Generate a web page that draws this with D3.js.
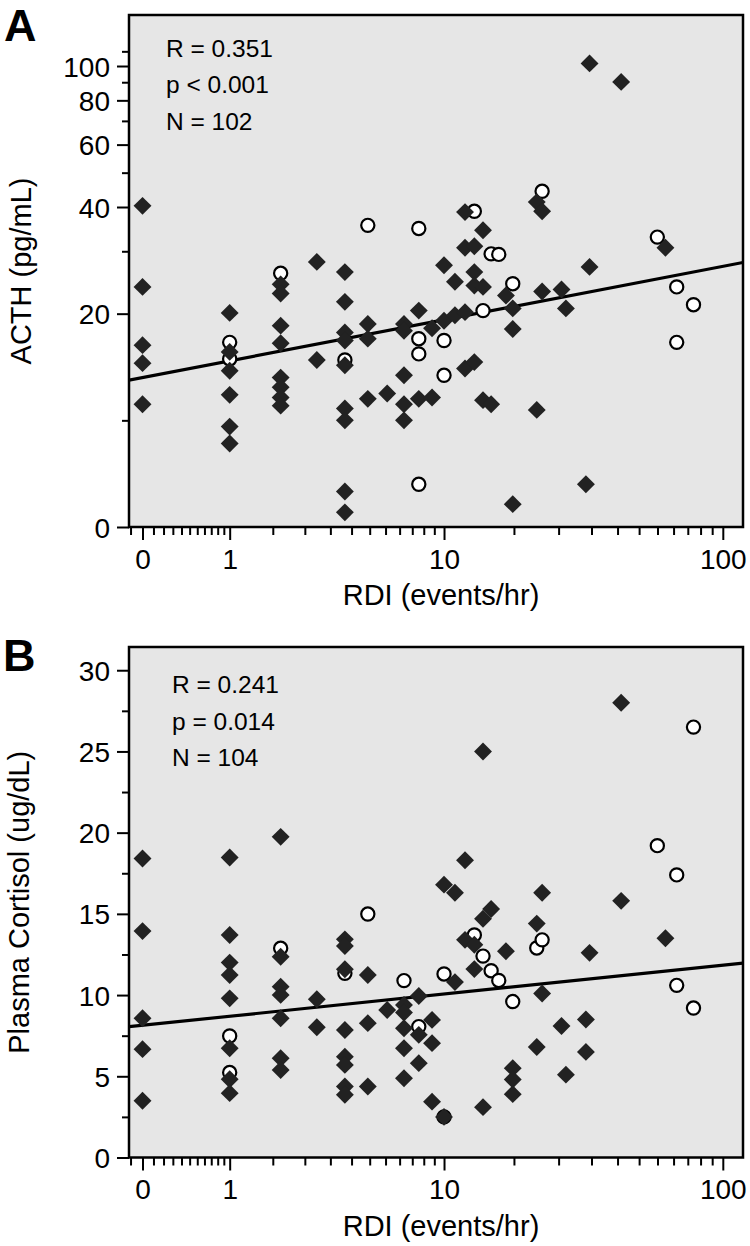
<!DOCTYPE html>
<html><head><meta charset="utf-8">
<script src="https://cdn.jsdelivr.net/npm/d3@7"></script>
<style>
body{margin:0;background:#fff}
svg{display:block}
text{font-family:"Liberation Sans",Arial,Helvetica,sans-serif;fill:#000}
</style>
</head><body>
<svg id="chart" width="750" height="1246"></svg>
<script>
// ---------------- DATA ----------------
// X axis (RDI, events/hr), shown on a log(RDI+1) axis
const xMajorTicks = [0, 1, 10, 100];
const xMajorLabels = ["0", "1", "10", "100"];

// Panel A: ACTH (pg/mL), log axis; the "0" label sits at the axis floor
const acthTickValues = [5, 20, 40, 60, 80, 100];
const acthTickLabels = ["0", "20", "40", "60", "80", "100"];
const acthMinorTicks = [10, 30, 50, 70, 90, 110];

const acthDiamondRDI = [0,0,0,0,0, 1,1,1,1,1,1, 2,2,2,2,2,2,2,2, 3,3, 4,4,4,4,4,4,4,4,4, 5,5,5, 6, 7,7,7,7,7, 8,8, 9,9, 10,10, 11,11, 12,12,12,12, 13,13,13,13, 14,14,14, 15, 17, 18,18,18, 22,22, 23,23, 27, 28, 33, 34,34, 44, 63];
const acthDiamondVal = [40.3,23.8,16.3,14.5,11.1, 20.1,15.6,13.8,11.8,9.6,8.6, 24.2,22.8,18.5,16.5,13.2,12.4,11.6,11.0, 28.0,14.8, 26.2,21.6,17.7,16.8,14.3,10.8,10.0,6.3,5.5, 18.7,17.0,11.5, 11.9, 18.7,17.9,13.4,11.1,10.0, 20.4,11.5, 18.2,11.6, 27.4,19.1, 24.6,19.8, 38.7,30.7,20.2,14.0, 31.0,26.2,24.0,14.6, 34.4,23.8,11.4, 11.1, 22.5, 20.7,18.1,5.8, 41.3,10.7, 38.9,23.1, 23.4, 20.7, 6.6, 101.7,27.1, 90.2, 30.7];
const acthCircleRDI = [1,1, 2, 4, 5, 8,8,8,8, 10,10, 13, 14, 15, 16, 18, 23, 59, 69,69, 79];
const acthCircleVal = [16.6,14.9, 26.0, 14.8, 35.5, 34.8,17.0,15.4,6.6, 16.8,13.4, 38.9, 20.4, 29.5, 29.4, 24.3, 44.3, 32.9, 23.8,16.6, 21.2];
const acthFitRDI = [0, 100];
const acthFitVal = [13.2, 27.2];

// Panel B: Plasma cortisol (ug/dL), linear axis
const cortTicks = [0, 5, 10, 15, 20, 25, 30];
const cortMinorTicks = [2.5, 7.5, 12.5, 17.5, 22.5, 27.5];

const cortDiamondRDI = [0,0,0,0,0, 1,1,1,1,1,1,1,1, 2,2,2,2,2,2,2, 3,3, 4,4,4,4,4,4,4,4, 5,5,5, 6, 7,7,7,7,7, 8,8,8, 9,9,9, 10,10, 11,11, 12,12, 13,13, 14,14,14, 15, 17, 18,18,18, 22,22, 23,23, 27, 28, 33,33, 34, 44,44, 63];
const cortDiamondVal = [18.41,13.94,8.57,6.67,3.49, 18.47,13.70,12.0,11.24,9.80,6.73,4.82,3.96, 19.74,12.36,10.52,10.01,8.57,6.11,5.39, 9.74,8.02, 13.43,13.02,11.59,7.85,6.21,5.70,4.37,3.86, 11.24,8.27,4.37, 9.08, 9.39,8.92,7.96,6.73,4.88, 9.94,7.55,5.81, 8.47,7.04,3.44, 16.8,2.5, 16.3,10.8, 18.3,13.4, 13.1,11.6, 25.0,14.7,3.1, 15.3, 12.7, 5.5,4.8,3.9, 14.4,6.8, 16.3,10.1, 8.1, 5.1, 8.5,6.5, 12.6, 28.0,15.8, 13.5];
const cortCircleRDI = [1,1, 2, 4, 5, 7, 8, 10,10, 13, 14, 15, 16, 18, 22, 23, 59, 69,69, 79,79];
const cortCircleVal = [7.48,5.23, 12.88, 11.34, 14.99, 10.89, 8.06, 11.3,2.5, 13.7, 12.4, 11.5, 10.9, 9.6, 12.9, 13.4, 19.2, 17.4,10.6, 9.2,26.5];
const cortFitRDI = [0, 100];
const cortFitVal = [8.14, 11.84];

// ---------------- DRAWING ----------------
const svg = d3.select("#chart");
const L = 129, R = 743;
const FONT = 28;

function zip(a, b){ return a.map((v,i)=>({rdi:v, val:b[i]})); }

function panel(cfg){
  const g = svg.append("g");
  const x = d3.scaleLog().domain([0.898, 118.6]).range([L, R]); // input is RDI+1
  const y = cfg.y;
  const top = cfg.top, bot = cfg.bottom;
  const X = d => x(d + 1);

  g.append("rect").attr("x", L).attr("y", top).attr("width", R-L).attr("height", bot-top)
    .attr("fill", "#e6e6e6");

  const clipId = "clip" + cfg.id;
  svg.append("clipPath").attr("id", clipId).append("rect")
    .attr("x", L).attr("y", top).attr("width", R-L).attr("height", bot-top);

  // regression line, straight in axis space, extended to the frame edges
  const p0 = [X(cfg.fitRDI[0]), y(cfg.fitVal[0])];
  const p1 = [X(cfg.fitRDI[1]), y(cfg.fitVal[1])];
  const slope = (p1[1]-p0[1])/(p1[0]-p0[0]);
  g.append("line").attr("clip-path", `url(#${clipId})`)
    .attr("x1", L).attr("y1", p0[1] + (L-p0[0])*slope)
    .attr("x2", R).attr("y2", p0[1] + (R-p0[0])*slope)
    .attr("stroke", "#000").attr("stroke-width", 3.2);

  // open circles
  g.append("g").selectAll("circle").data(zip(cfg.cRDI, cfg.cVal)).join("circle")
    .attr("cx", d => X(d.rdi)).attr("cy", d => y(d.val)).attr("r", 6.6)
    .attr("fill", "#fff").attr("stroke", "#000").attr("stroke-width", 2.2);

  // filled diamonds
  const sym = d3.symbol().type(d3.symbolSquare).size(160);
  g.append("g").selectAll("path").data(zip(cfg.dRDI, cfg.dVal)).join("path")
    .attr("d", sym)
    .attr("transform", d => `translate(${X(d.rdi)},${y(d.val)}) rotate(45)`)
    .attr("fill", "#222");

  // frame
  g.append("rect").attr("x", L).attr("y", top).attr("width", R-L).attr("height", bot-top)
    .attr("fill", "none").attr("stroke", "#000").attr("stroke-width", 2.5);

  // x axis: major + minor
  const minor = [];
  const per = 10;
  for (let i = 0; i < xMajorTicks.length-1; i++){
    const a = xMajorTicks[i], b = xMajorTicks[i+1];
    for (let k = 1; k <= per; k++) minor.push(a + k*(b-a)/(per+1));
  }
  minor.push(-(xMajorTicks[1]-xMajorTicks[0])/(per+1));
  const xa = g.append("g").attr("transform", `translate(0,${bot})`)
    .call(d3.axisBottom(x).tickValues(xMajorTicks.map(d=>d+1)).tickSize(13).tickPadding(9)
      .tickFormat((d,i)=>xMajorLabels[i]));
  const xm = g.append("g").attr("transform", `translate(0,${bot})`)
    .call(d3.axisBottom(x).tickValues(minor.map(d=>d+1)).tickSize(8).tickFormat(""));

  // y axis
  const ya = g.append("g").attr("transform", `translate(${L},0)`)
    .call(d3.axisLeft(y).tickValues(cfg.yTicks).tickSize(12).tickPadding(7)
      .tickFormat((d,i)=>cfg.yLabels[i]));
  const ym = g.append("g").attr("transform", `translate(${L},0)`)
    .call(d3.axisLeft(y).tickValues(cfg.yMinor).tickSize(7).tickFormat(""));

  [xa, xm, ya, ym].forEach(a => {
    a.select(".domain").remove();
    a.selectAll("line").attr("stroke", "#000").attr("stroke-width", 2);
    a.selectAll("text").attr("font-size", FONT).attr("font-family", null).attr("fill", "#000");
  });
  ya.selectAll("text").attr("dy", "0.36em");

  // axis titles
  g.append("text").attr("x", 441).attr("y", bot + 78).attr("text-anchor", "middle")
    .attr("font-size", 29).text("RDI (events/hr)");
  g.append("text").attr("transform", `translate(${cfg.titleX},${(top+bot)/2}) rotate(-90)`)
    .attr("text-anchor", "middle").attr("font-size", 29).text(cfg.title);

  // stats
  cfg.stats.forEach((s, i) => {
    g.append("text").attr("x", cfg.statX).attr("y", cfg.statY + i*36.5)
      .attr("font-size", 24.5).text(s);
  });

  // panel letter
  g.append("text").attr("x", cfg.letterX).attr("y", cfg.letterY)
    .attr("font-size", 45).attr("font-weight", "bold").text(cfg.letter);
}

panel({
  id: "A", top: 15, bottom: 527,
  y: d3.scaleLog().domain([5, 139.3]).range([527, 15]),
  yTicks: acthTickValues, yLabels: acthTickLabels, yMinor: acthMinorTicks,
  dRDI: acthDiamondRDI, dVal: acthDiamondVal, cRDI: acthCircleRDI, cVal: acthCircleVal,
  fitRDI: acthFitRDI, fitVal: acthFitVal,
  title: "ACTH (pg/mL)", titleX: 31,
  stats: ["R = 0.351", "p < 0.001", "N = 102"], statX: 166, statY: 56.5,
  letter: "A", letterX: 4, letterY: 41
});

panel({
  id: "B", top: 647, bottom: 1157.5,
  y: d3.scaleLinear().domain([0, 31.43]).range([1157.5, 647]),
  yTicks: cortTicks, yLabels: cortTicks.map(String), yMinor: cortMinorTicks,
  dRDI: cortDiamondRDI, dVal: cortDiamondVal, cRDI: cortCircleRDI, cVal: cortCircleVal,
  fitRDI: cortFitRDI, fitVal: cortFitVal,
  title: "Plasma Cortisol (ug/dL)", titleX: 29,
  stats: ["R = 0.241", "p = 0.014", "N = 104"], statX: 172, statY: 693,
  letter: "B", letterX: 3, letterY: 671
});
</script>
</body></html>
